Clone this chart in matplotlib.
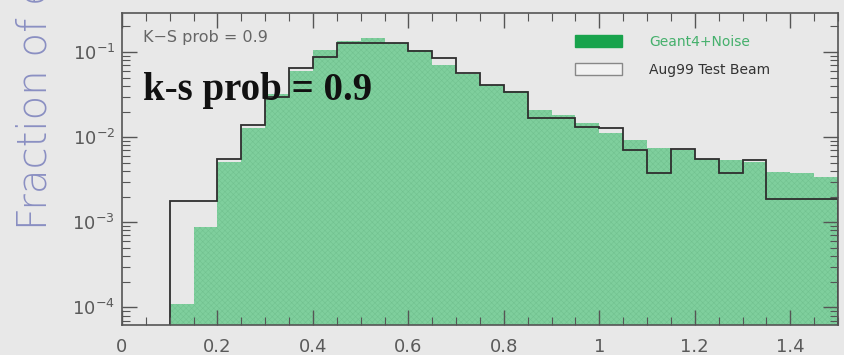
import numpy as np
import matplotlib
matplotlib.use("Agg")
import matplotlib.pyplot as plt
import matplotlib.ticker as mticker
from matplotlib.patches import Patch

# bin edges (0.05 wide, from 0.1 to 1.5)
edges = np.round(np.arange(0.10, 1.5001, 0.05), 2)

# Geant4+Noise simulation (green filled)
geant = [0.00011, 0.00088, 0.0051, 0.0128, 0.032, 0.060, 0.105, 0.135,
         0.145, 0.127, 0.106, 0.070, 0.055, 0.041, 0.035, 0.021, 0.018,
         0.0146, 0.0111, 0.0092, 0.0074, 0.0070, 0.0056, 0.0054, 0.0051,
         0.0039, 0.0038, 0.0034]

# Aug99 test beam data (black outline)
beam = [0.0018, 0.0018, 0.0055, 0.0138, 0.030, 0.065, 0.088, 0.128,
        0.128, 0.127, 0.104, 0.084, 0.057, 0.041, 0.034, 0.0167, 0.0167,
        0.0131, 0.0128, 0.0070, 0.0038, 0.0072, 0.0055, 0.0038, 0.0054,
        0.0019, 0.0019, 0.0019]

labels = ["Geant4+Noise", "Aug99 Test Beam"]
xticks = [0, 0.2, 0.4, 0.6, 0.8, 1.0, 1.2, 1.4]

bg = "#e8e8e8"
green = "#7fcf9d"
plt.rcParams["hatch.linewidth"] = 0.4

fig = plt.figure(figsize=(8.44, 3.55), dpi=100, facecolor=bg)
ax = fig.add_axes([0.1445, 0.0845, 0.8484, 0.879], facecolor=bg)

ax.stairs(geant, edges, fill=True, baseline=1e-6, facecolor=green,
          edgecolor="#72c290", hatch="xxxxxx", linewidth=0)
ax.stairs(beam, edges, baseline=1e-6, color="#2e2e2e", linewidth=1.3)

ax.set_yscale("log")
ax.set_xlim(0, 1.5)
ax.set_ylim(6.2e-5, 0.288)

ax.set_xticks(xticks)
ax.xaxis.set_minor_locator(mticker.MultipleLocator(0.05))
ax.xaxis.set_major_formatter(mticker.FuncFormatter(lambda v, p: f"{v:g}"))
ax.yaxis.set_major_locator(mticker.LogLocator(base=10, numticks=10))
ax.yaxis.set_minor_locator(mticker.LogLocator(base=10, subs=np.arange(2, 10), numticks=10))
ax.yaxis.set_minor_formatter(mticker.NullFormatter())

ax.tick_params(which="both", direction="in", top=True, right=True,
               color="#555555", labelcolor="#5a5a5a")
ax.tick_params(which="major", length=11, width=1, labelsize=13)
ax.tick_params(which="minor", length=6, width=0.8)
ax.tick_params(axis="x", which="major", pad=9)
ax.tick_params(axis="y", which="major", pad=5)
for s in ax.spines.values():
    s.set_color("#555555")
    s.set_linewidth(1.2)

# axis title is cut off by the top edge, as in the original
fig.text(0.041, 1 - 230 / 355, "Fraction of events", rotation=90,
         ha="center", va="bottom", fontsize=29, color="#8a8fc2",
         fontweight="light")

ax.text(0.029, 0.92, "K\u2212S prob = 0.9", transform=ax.transAxes,
        fontsize=11.5, color="#666666", va="center", ha="left")
ax.text(0.029, 0.72, "k-s prob = 0.9", transform=ax.transAxes,
        fontsize=28, fontweight="bold", family="Liberation Serif",
        color="#111111", va="baseline", ha="left")

handles = [Patch(facecolor="#18a34c", edgecolor="#18a34c"),
           Patch(facecolor="#f2f2f2", edgecolor="#888888")]
leg = ax.legend(handles, labels, loc="upper left", bbox_to_anchor=(0.633, 0.93),
                frameon=False, fontsize=10, handlelength=3.4, handleheight=1.0,
                handletextpad=1.9, labelspacing=1.0, borderpad=0, borderaxespad=0)
leg.get_texts()[0].set_color("#45b06c")
leg.get_texts()[1].set_color("#333333")

fig.savefig("out.png", dpi=100, facecolor=bg)
